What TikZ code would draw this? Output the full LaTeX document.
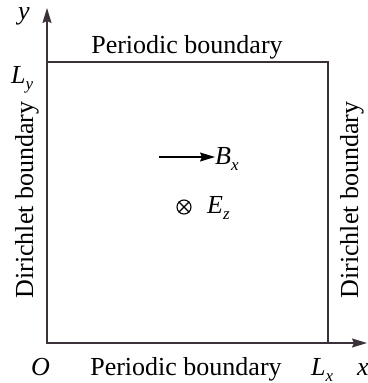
\documentclass[tikz,border=0pt]{standalone}
\usepackage{fontspec}
\setmainfont{Liberation Serif}
\usetikzlibrary{arrows.meta}
\definecolor{linecol}{RGB}{58,50,56}
\tikzset{
  lbl/.style={inner sep=0pt, font=\fontsize{26}{30}\selectfont},
  axisline/.style={draw=linecol, line width=1.4pt, -{Stealth[length=15pt,width=9pt,inset=2pt]}},
  boxline/.style={draw=linecol, line width=2.3pt},
}
\newcommand{\sbs}[1]{\raisebox{-0.26em}{\fontsize{17}{20}\selectfont\textit{#1}}}
\begin{document}
\begin{tikzpicture}[x=1pt,y=-1pt]
\useasboundingbox (0,0) rectangle (367,383);
\coordinate (O) at (47,343);
\coordinate (ytip) at (47,8);
\coordinate (xtip) at (367,343);
\coordinate (TL) at (47,62);
\coordinate (TR) at (328,62);
\coordinate (BR) at (328,343);
\draw[axisline] (O) -- (ytip);
\draw[axisline] (O) -- (xtip);
\draw[boxline, line join=miter] (O) -- (TL) -- (TR) -- (BR) -- cycle;
% labels
\node[lbl, anchor=base] (top) at (187,53) {Periodic boundary};
\node[lbl, anchor=base] (bot) at (186,375) {Periodic boundary};
\node[lbl, anchor=north, rotate=90] (left) at (15,200) {Dirichlet boundary};
\node[lbl, anchor=north, rotate=90] (right) at (340,200) {Dirichlet boundary};
\node[lbl, anchor=base west] (ylab) at (18,19) {\textit{y}};
\node[lbl, anchor=base west] (Ly) at (11,83) {\textit{L}\sbs{y}};
\node[lbl, anchor=base west] (Olab) at (31,375) {\textit{O}};
\node[lbl, anchor=base west] (Lx) at (311,375) {\textit{L}\sbs{x}};
\node[lbl, anchor=base west] (xlab) at (357,375) {\textit{x}};
% B field arrow
\coordinate (Bstart) at (159,157);
\node[lbl, anchor=base west] (Bx) at (215,164) {\textit{B}\sbs{x}};
\draw[draw=black, line width=1.3pt, -{Stealth[length=15pt,width=9pt,inset=2pt]}] (Bstart) -- (Bx.west |- Bstart);
% E field (into page)
\node[draw=black, circle, line width=1.1pt, minimum size=14pt, inner sep=0pt] (Ein) at (184,207) {};
\draw[line width=1.1pt] (Ein.north east) -- (Ein.south west) (Ein.north west) -- (Ein.south east);
\node[lbl, anchor=base west] (Ez) at (207,213) {\textit{E}\sbs{z}};
\end{tikzpicture}
\end{document}
